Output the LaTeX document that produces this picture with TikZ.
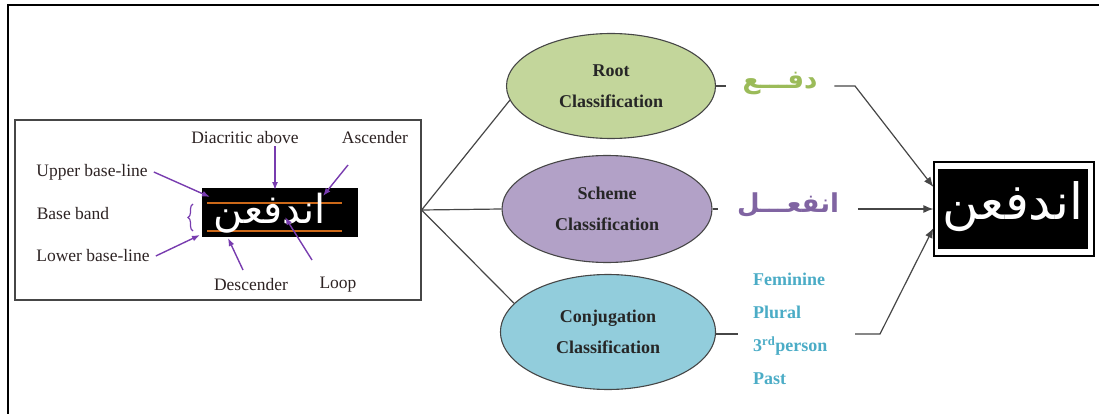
\documentclass[tikz,border=0pt]{standalone}
\usepackage{fontspec}
\setmainfont{Liberation Serif}
\newfontfamily\arabicfont[Script=Arabic]{DejaVu Sans}
\TeXXeTstate=1
\usetikzlibrary{shapes.geometric,arrows.meta,decorations.pathreplacing}
\definecolor{ellgreen}{RGB}{195,214,155}
\definecolor{ellpurple}{RGB}{178,161,199}
\definecolor{ellblue}{RGB}{146,205,220}
\definecolor{txtgreen}{RGB}{155,187,89}
\definecolor{txtpurple}{RGB}{128,100,162}
\definecolor{txtblue}{RGB}{75,172,198}
\definecolor{arrpurple}{RGB}{120,60,175}
\definecolor{linegray}{RGB}{70,70,70}
\definecolor{orangeline}{RGB}{205,105,25}
\definecolor{lbltext}{RGB}{45,35,35}
\begin{document}
\begin{tikzpicture}[x=1pt,y=-1pt,
  lbl/.style={font=\fontsize{17.5}{20}\selectfont, text=lbltext, inner sep=2pt},
  parr/.style={draw=arrpurple, line width=1.4pt, -{Latex[length=8pt,width=6pt]}},
  ell/.style={ellipse, draw=linegray, line width=1.1pt, inner sep=0pt, align=center,
     font=\bfseries\fontsize{18}{31}\selectfont, text=black!85},
  conn/.style={draw=linegray, line width=1.2pt},
  carr/.style={draw=linegray, line width=1.2pt, -{Latex[length=10pt,width=8pt]}},
  arabw/.style={text=white, inner sep=0pt},
  oline/.style={draw=orangeline, line width=2pt}
]
\useasboundingbox (0,0) rectangle (1099,414);
% outer frame
\draw[line width=2.2pt] (8,416) -- (8,5) -- (1101,5);

% left panel
\node[draw=linegray, line width=1.2pt, minimum width=406pt, minimum height=180pt, inner sep=0pt] (leftbox) at (218,210) {};
\node[fill=black, minimum width=156pt, minimum height=49pt, inner sep=0pt] (blk) at (280,212.5) {};
\draw[oline] ([xshift=5pt,yshift=-15.5pt]blk.north west) -- ([xshift=-16pt,yshift=-15.5pt]blk.north east);
\draw[oline] ([xshift=5pt,yshift=6pt]blk.south west) -- ([xshift=-16pt,yshift=6pt]blk.south east);
\node[arabw, font=\arabicfont\fontsize{40}{42}\selectfont] (word) at (270,213) {\beginR اندفعن\endR};

\node[lbl] (dia) at (245,138) {Diacritic above};
\node[lbl] (asc) at (375,138) {Ascender};
\node[lbl] (upl) at (92,172) {Upper base-line};
\node[lbl] (bband) at (73,214) {Base band};
\node[lbl] (lowl) at (93,256) {Lower base-line};
\node[lbl] (desc) at (251,285) {Descender};
\node[lbl] (loop) at (338,285) {Loop};

\coordinate (tDia) at (275,190);
\coordinate (sAsc) at (348,165);
\coordinate (tAsc) at (323,196);
\coordinate (tUpl) at (210,197);
\coordinate (tLowl) at (200,235);
\coordinate (sDesc) at (243,270);
\coordinate (tDesc) at (228,238);
\coordinate (sLoop) at (312,260);
\coordinate (tLoop) at (285,217);
\draw[parr] (dia.south -| tDia) -- (tDia);
\draw[parr] (sAsc) -- (tAsc);
\draw[parr] ([xshift=4pt]upl.east) -- (tUpl);
\draw[parr] ([xshift=4pt]lowl.east) -- (tLowl);
\draw[parr] (sDesc) -- (tDesc);
\draw[parr] (sLoop) -- (tLoop);
\draw[arrpurple, line width=1.2pt, decorate, decoration={brace, amplitude=5pt}] (193,231) -- (193,204);

% ellipses
\node[ell, fill=ellgreen, minimum width=209pt, minimum height=105pt] (root) at (611,86) {Root\\Classification};
\node[ell, fill=ellpurple, minimum width=210pt, minimum height=107pt] (scheme) at (607,209) {Scheme\\Classification};
\node[ell, fill=ellblue, minimum width=215pt, minimum height=115pt] (conj) at (608,332) {Conjugation\\Classification};

\draw[conn] (leftbox.east) -- (root.188);
\draw[conn] (leftbox.east) -- (scheme.west);
\draw[conn] (leftbox.east) -- (conj.163);

% right box
\node[draw=black, line width=1.2pt, fill=white, minimum width=160pt, minimum height=94pt, inner sep=0pt] (rightbox) at (1014,209) {};
\node[fill=black, minimum width=150pt, minimum height=79pt, inner sep=0pt] (blk2) at (1013,209) {};
\node[arabw, font=\arabicfont\fontsize{50}{52}\selectfont] (word2) at (1013,207) {\beginR اندفعن\endR};

% middle texts
\node[text=txtgreen, font=\arabicfont\bfseries\fontsize{26}{28}\selectfont, inner sep=0pt, outer xsep=17pt] (gr) at (780,84) {\beginR دفـــع\endR};
\node[text=txtpurple, font=\arabicfont\bfseries\fontsize{26}{28}\selectfont, inner sep=0pt, outer xsep=19pt] (pu) at (788,205) {\beginR انفعـــل\endR};
\node[text=txtblue, font=\bfseries\fontsize{18}{33}\selectfont, align=left, anchor=west, inner sep=0pt] (bl) at (753,329) {Feminine\\Plural\\3\textsuperscript{rd}person\\Past};

\coordinate (k1) at (855,86);
\coordinate (c1) at (738,334);
\coordinate (c2) at (855,334);
\coordinate (c3) at (880,334);

\draw[conn] (root.east) -- (gr.west |- root.east);
\draw[carr] (gr.east |- k1) -- (k1) -- ([yshift=22pt]rightbox.west);
\draw[conn] (scheme.east) -- (pu.west |- scheme.east);
\draw[carr] (pu.east |- scheme.east) -- (rightbox.west |- scheme.east);
\draw[conn] (conj.east |- c1) -- (c1);
\draw[carr] (c2) -- (c3) -- ([yshift=-19pt]rightbox.west);
\end{tikzpicture}
\end{document}
